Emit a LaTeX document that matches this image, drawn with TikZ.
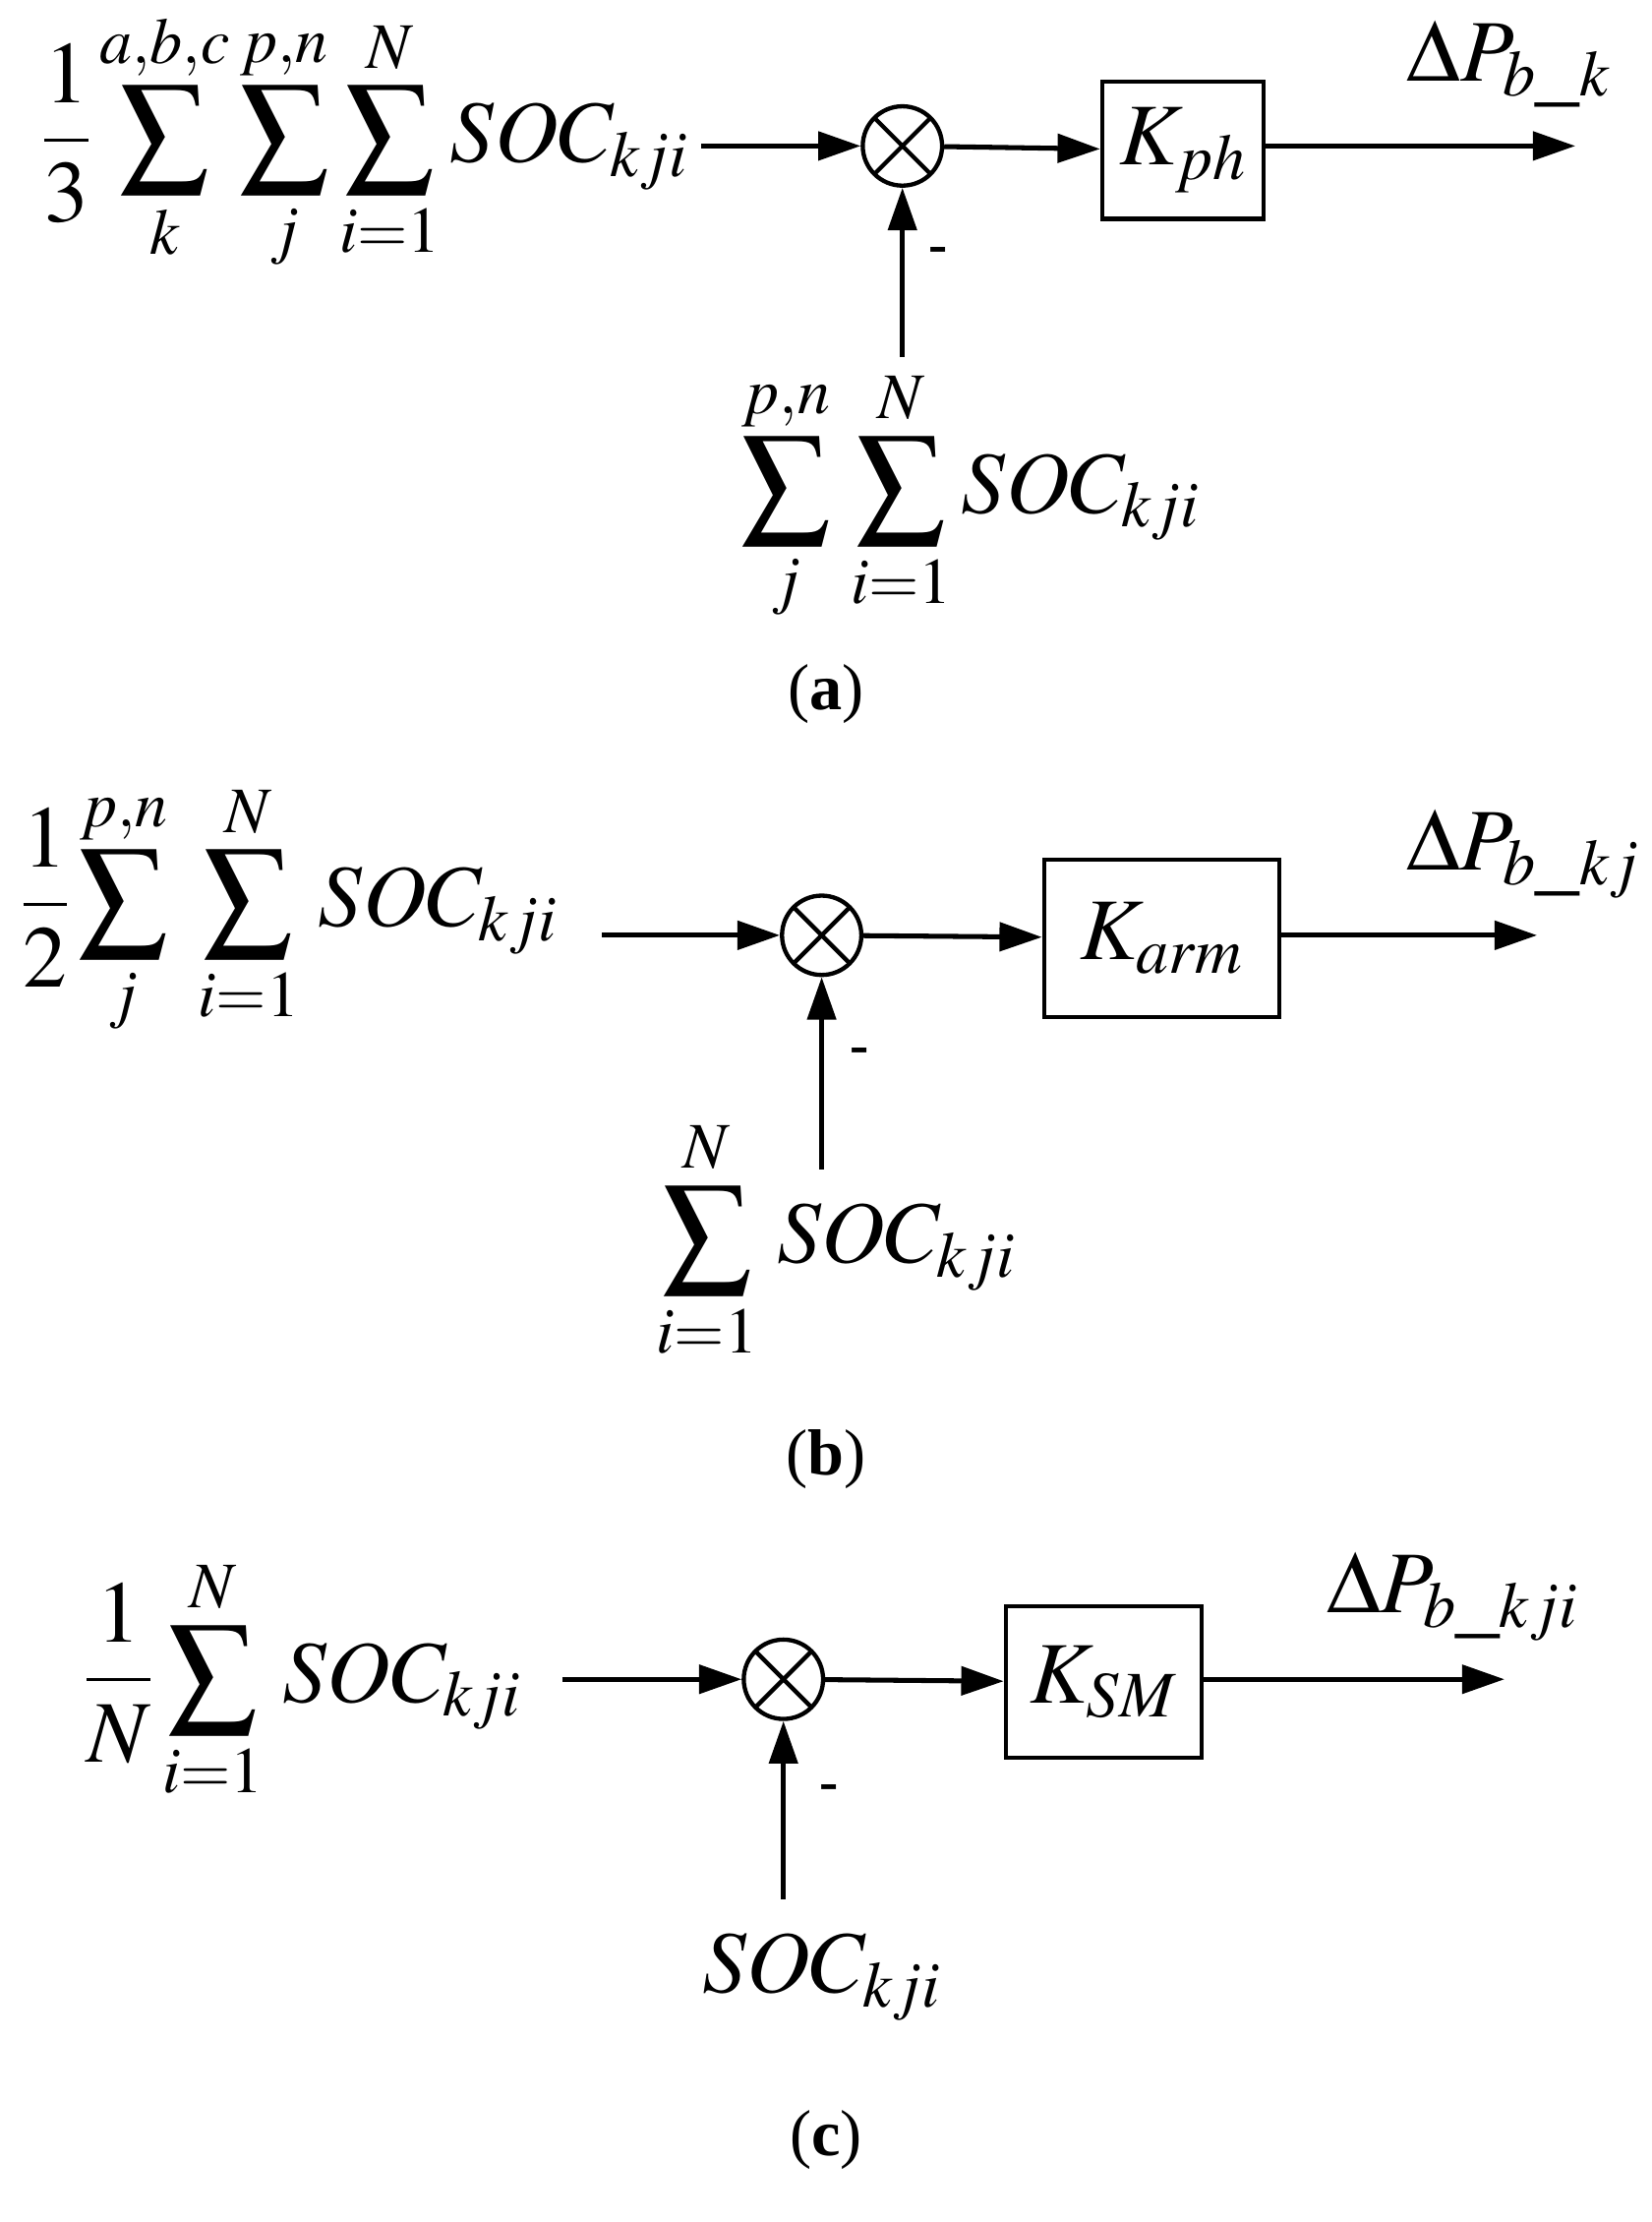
\documentclass[tikz,border=0pt]{standalone}
\usepackage{mathptmx}
\usepackage{fontspec}
\setmainfont{Liberation Serif}
\usetikzlibrary{arrows.meta}
\begin{document}
\begin{tikzpicture}[x=1pt,y=-1pt,
 big/.style={font=\fontsize{62}{68}\selectfont,inner sep=0},
 lab/.style={font=\fontsize{46}{50}\selectfont,inner sep=0},
 mn/.style={font=\fontsize{40}{44}\selectfont\bfseries,inner sep=0},
 ar/.style={line width=3.5pt,-{Triangle[length=30pt,width=20pt]}},
 sum/.style={circle,draw,line width=3pt,minimum size=56pt,inner sep=0,
   path picture={\draw[line width=3pt] (path picture bounding box.north west)--(path picture bounding box.south east)
   (path picture bounding box.north east)--(path picture bounding box.south west);}},
 blk/.style={draw,line width=3pt,inner sep=0}]
\useasboundingbox (0,0) rectangle (1166,1568);
% (a)
\node[big,anchor=west] (fa) at (30,100) {$\displaystyle\frac13\sum_{k}^{a,b,c}\sum_{j}^{p,n}\sum_{i=1}^{N}SOC_{kji}$};
\coordinate (ai) at (495,103);
\node[sum] (sa) at (637,103) {};
\node[blk,minimum width=114pt,minimum height=97pt] (ka) at (835,106) {};
\node[big] at (ka) {$K_{ph}$};
\coordinate (ao) at (1112,103);
\node[big,anchor=south] at (1065,76) {$\Delta P_{b\_k}$};
\node[big] (ga) at (685,350) {$\displaystyle\sum_{j}^{p,n}\,\sum_{i=1}^{N}SOC_{kji}$};
\coordinate (gai) at (637,252);
\node[mn] at (662,180) {-};
\node[lab] at (583,490) {(\textbf{a})};
\draw[ar] (ai)--(sa);
\draw[ar] (sa)--(ka);
\draw[ar] (ka.east|-ao)--(ao);
\draw[ar] (gai)--(sa);
% (b)
\node[big,anchor=west] (fb) at (15,642) {$\displaystyle\frac12\sum_{j}^{p,n}\;\sum_{i=1}^{N}\,SOC_{kji}$};
\coordinate (bi) at (425,660);
\node[sum] (sb) at (580,660) {};
\node[blk,minimum width=166pt,minimum height=111pt] (kb) at (820,662) {};
\node[big] at (kb) {$K_{arm}$};
\coordinate (bo) at (1085,660);
\node[big,anchor=south] at (1075,634) {$\Delta P_{b\_kj}$};
\node[big] (gb) at (590,875) {$\displaystyle\sum_{i=1}^{N}\,SOC_{kji}$};
\coordinate (gbi) at (580,825);
\node[mn] at (607,745) {-};
\node[lab] at (583,1030) {(\textbf{b})};
\draw[ar] (bi)--(sb);
\draw[ar] (sb)--(kb);
\draw[ar] (kb.east|-bo)--(bo);
\draw[ar] (gbi)--(sb);
% (c)
\node[big,anchor=west] (fc) at (60,1185) {$\displaystyle\frac1N\sum_{i=1}^{N}\,SOC_{kji}$};
\coordinate (ci) at (397,1185);
\node[sum] (sc) at (553,1185) {};
\node[blk,minimum width=138pt,minimum height=107pt] (kc) at (779,1187) {};
\node[big] at (kc) {$K_{SM}$};
\coordinate (co) at (1062,1185);
\node[big,anchor=south] at (1025,1158) {$\Delta P_{b\_kji}$};
\node[big] (gc) at (580,1395) {$SOC_{kji}$};
\coordinate (gci) at (553,1340);
\node[mn] at (585,1265) {-};
\node[lab] at (583,1510) {(\textbf{c})};
\draw[ar] (ci)--(sc);
\draw[ar] (sc)--(kc);
\draw[ar] (kc.east|-co)--(co);
\draw[ar] (gci)--(sc);
\end{tikzpicture}
\end{document}
